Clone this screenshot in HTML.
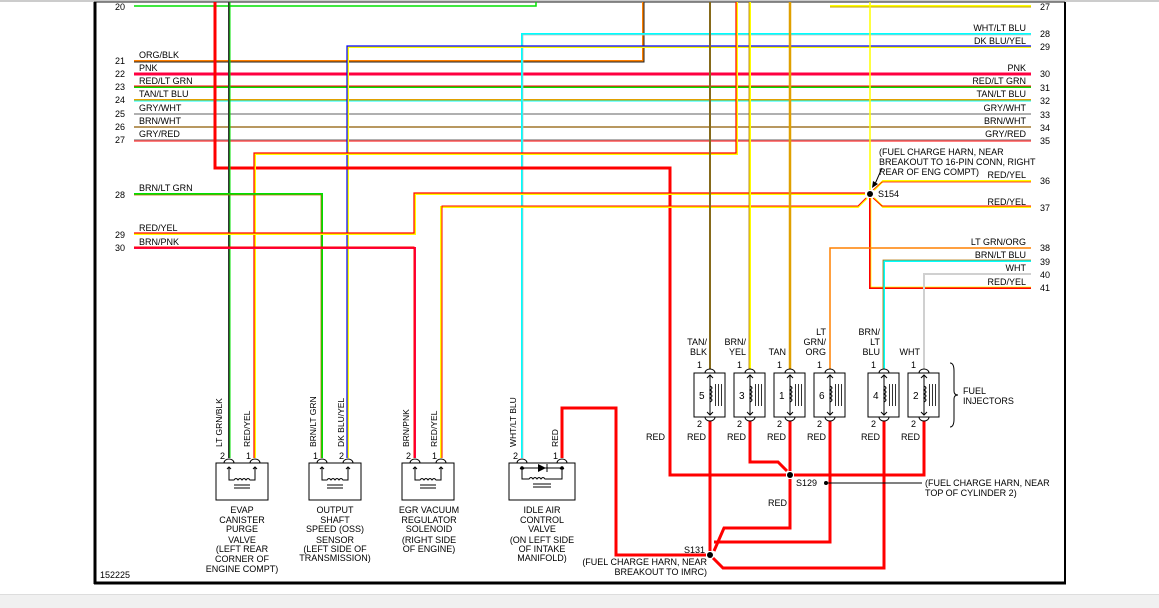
<!DOCTYPE html>
<html><head><meta charset="utf-8"><style>
html,body{margin:0;padding:0;background:#fff;}
svg{display:block;font-family:"Liberation Sans",sans-serif;font-size:9px;}
</style></head><body>
<svg width="1159" height="608" viewBox="0 0 1159 608" xmlns="http://www.w3.org/2000/svg">
<defs>
<g id="inj" fill="none" stroke="#000" stroke-width="1">
<rect x="-16" y="373" width="31" height="44"/>
<path d="M-5,373 A5,4 0 0 1 5,373"/>
<path d="M-5,417 A5,4 0 0 0 5,417"/>
<path d="M0,375 V415 M-3,378 L0,375 L3,378 M-3,412 L0,415 L3,412"/>
<path d="M0,386 q4,2 0,4 q4,2 0,4 q4,2 0,4 q4,2 0,4"/>
<path d="M5.5,384 V406 M8.5,384 V406 M11.5,384 V406" stroke-width="0.8"/>
</g>
<g id="sol" fill="none" stroke="#000" stroke-width="1">
<rect x="-13" y="463" width="52" height="37"/>
<path d="M-5,463 A5,4 0 0 1 5,463 M21,463 A5,4 0 0 1 31,463"/>
<path d="M0,467 V480 H5 q2,-3 4,0 q2,-3 4,0 q2,-3 4,0 q2,-3 4,0 H26 V467 M-2,469 L0,467 L2,469 M24,469 L26,467 L28,469"/>
<path d="M5,485 H21 M5,488 H21"/>
</g>
</defs>
<!-- frame -->
<rect x="0" y="0" width="1159" height="2" fill="#ccc"/>
<line x1="94" y1="2" x2="1065" y2="2" stroke="#666" stroke-width="1.5"/>
<line x1="95" y1="2" x2="95" y2="584" stroke="#000" stroke-width="3"/>
<line x1="1065" y1="2" x2="1065" y2="584" stroke="#000" stroke-width="2"/>
<line x1="94" y1="583" x2="1066" y2="583" stroke="#000" stroke-width="3"/>
<rect x="0" y="594" width="1159" height="14" fill="#f0f0f0"/>
<line x1="0" y1="594.5" x2="1159" y2="594.5" stroke="#ddd"/>

<g fill="none" stroke-linejoin="miter">
<path d="M134,6 H536 V2" stroke="#00e000" stroke-width="1.5"/>
<path d="M134,61 H643 V2" stroke="#ff8000" stroke-width="2"/><path d="M134,62 H644 V2" stroke="#222" stroke-width="1"/>
<path d="M134,74 H1031" stroke="#ff0040" stroke-width="3"/>
<path d="M134,87 H1031" stroke="#00e000" stroke-width="2"/><path d="M134,86 H1031" stroke="#ff0000" stroke-width="1"/>
<path d="M134,100 H1031" stroke="#e0a000" stroke-width="2"/><path d="M134,101 H1031" stroke="#00ffff" stroke-width="1"/>
<path d="M134,114 H1031" stroke="#b0b0b0" stroke-width="2"/>
<path d="M134,127 H1031" stroke="#c0c0c0" stroke-width="2"/><path d="M134,127 H1031" stroke="#b07000" stroke-width="1"/>
<path d="M134,140 H1031" stroke="#b0b0b0" stroke-width="2"/><path d="M134,141 H1031" stroke="#ff0000" stroke-width="1"/>
<path d="M522,458 V34 H1031" stroke="#00ffff" stroke-width="2"/><path d="M523,458 V35 H1031" stroke="#c0c0c0" stroke-width="0.7"/>
<path d="M348,458 V47 H1031" stroke="#ffff00" stroke-width="2"/><path d="M347,458 V46 H1031" stroke="#0000ff" stroke-width="1.2"/>
<path d="M830,6 H1031" stroke="#ffff00" stroke-width="2"/><path d="M830,7 H1031" stroke="#c0a000" stroke-width="1"/>
<path d="M870,2 V190" stroke="#ffff00" stroke-width="1.5"/>
<path d="M215,2 V168 H670 V475 H786" stroke="#ff0000" stroke-width="3"/>
<path d="M229,2 V458" stroke="#333" stroke-width="2"/><path d="M230,2 V458" stroke="#00e000" stroke-width="1"/>
<path d="M255,458 V154 H737 V2" stroke="#ffff00" stroke-width="2"/><path d="M254,458 V153 H736 V2" stroke="#ff0000" stroke-width="1.2"/>
<path d="M134,194 H322 V458" stroke="#00e000" stroke-width="2"/><path d="M134,195 H321 V458" stroke="#b07000" stroke-width="0.8"/>
<path d="M134,234 H415 V194 H865" stroke="#ffff00" stroke-width="2"/><path d="M134,233 H414 V193 H865" stroke="#ff0000" stroke-width="1.2"/>
<path d="M134,248 H415 V458" stroke="#ff0040" stroke-width="2"/><path d="M134,247 H414 V458" stroke="#ff0000" stroke-width="1"/>
<path d="M441,458 V207 H858 L867,198" stroke="#ffff00" stroke-width="2"/><path d="M442,458 V206 H858 L866,198" stroke="#ff0000" stroke-width="1"/>
<path d="M874,190 L883,181 H1031" stroke="#ffff00" stroke-width="2"/><path d="M873,190 L882,182 H1031" stroke="#ff0000" stroke-width="0.8"/>
<path d="M874,198 L883,207 H1031" stroke="#ffff00" stroke-width="2"/><path d="M873,198 L882,206 H1031" stroke="#ff0000" stroke-width="1"/>
<path d="M870,198 V288 H1031" stroke="#ff0000" stroke-width="2"/><path d="M871,198 V287 H1031" stroke="#ffff00" stroke-width="0.8"/>
<path d="M710,2 V369" stroke="#d8a000" stroke-width="2"/><path d="M710,2 V369" stroke="#333" stroke-width="1"/>
<path d="M750,2 V369" stroke="#ffff00" stroke-width="2"/><path d="M749,2 V369" stroke="#b07000" stroke-width="0.8"/>
<path d="M790,2 V369" stroke="#e0a000" stroke-width="2.5"/>
<path d="M1031,248 H830 V369" stroke="#ff8000" stroke-width="1.5"/>
<path d="M1031,261 H884 V369" stroke="#00ffff" stroke-width="2"/><path d="M1031,260 H883 V369" stroke="#b07000" stroke-width="0.8"/>
<path d="M1031,274 H924 V369" stroke="#d0d0d0" stroke-width="2"/>
<g stroke="#ff0000" stroke-width="3">
<path d="M710,421 V551"/>
<path d="M750,421 V462 H778 L787,471"/>
<path d="M790,421 V471 M790,479 V528 H724 L714,551"/>
<path d="M830,421 V542 H714"/>
<path d="M884,421 V568 H723 L713,558"/>
<path d="M924,421 V475 H794"/>
<path d="M562,458 V408 H616 V555 H706"/>
</g>
</g>
<circle cx="870" cy="194" r="3"/>
<circle cx="790" cy="475" r="3"/>
<circle cx="710" cy="555" r="3"/>
<line x1="826" y1="483" x2="922" y2="483" stroke="#000" stroke-width="1"/>
<circle cx="826" cy="483" r="2"/>
<path d="M882,168 L875,184" stroke="#000" stroke-width="1"/><path d="M872,188 L873,181 L878,184 Z"/>

<use href="#inj" x="710"/><use href="#inj" x="750"/><use href="#inj" x="790"/>
<use href="#inj" x="830"/><use href="#inj" x="884"/><use href="#inj" x="924"/>
<g font-size="10">
<text x="699" y="399">5</text><text x="739" y="399">3</text><text x="779" y="399">1</text>
<text x="819" y="399">6</text><text x="873" y="399">4</text><text x="913" y="399">2</text>
</g>
<g text-anchor="end">
<text x="702" y="368">1</text><text x="742" y="368">1</text><text x="782" y="368">1</text><text x="822" y="368">1</text><text x="876" y="368">1</text><text x="916" y="368">1</text>
<text x="702" y="427">2</text><text x="742" y="427">2</text><text x="782" y="427">2</text><text x="822" y="427">2</text><text x="876" y="427">2</text><text x="916" y="427">2</text>
<text x="707" y="345">TAN/</text><text x="707" y="355">BLK</text>
<text x="746" y="345">BRN/</text><text x="746" y="355">YEL</text>
<text x="786" y="355">TAN</text>
<text x="826" y="335">LT</text><text x="826" y="345">GRN/</text><text x="826" y="355">ORG</text>
<text x="880" y="335">BRN/</text><text x="880" y="345">LT</text><text x="880" y="355">BLU</text>
<text x="920" y="355">WHT</text>
<text x="665" y="440">RED</text><text x="706" y="440">RED</text><text x="746" y="440">RED</text><text x="786" y="440">RED</text><text x="826" y="440">RED</text><text x="880" y="440">RED</text><text x="920" y="440">RED</text>
<text x="787" y="506">RED</text>
<text x="705" y="553">S131</text>
<text x="707" y="565">(FUEL CHARGE HARN, NEAR</text>
<text x="707" y="575">BREAKOUT TO IMRC)</text>
</g>
<path d="M950,363 q4,0 4,8 v20 q0,4 4,4 q-4,0 -4,4 v20 q0,8 -4,8" fill="none" stroke="#000"/>
<text x="963" y="394">FUEL</text><text x="963" y="404">INJECTORS</text>
<text x="796" y="486">S129</text>
<text x="925" y="486">(FUEL CHARGE HARN, NEAR</text>
<text x="925" y="496">TOP OF CYLINDER 2)</text>
<text x="878" y="197">S154</text>
<text x="879" y="155">(FUEL CHARGE HARN, NEAR</text>
<text x="879" y="165">BREAKOUT TO 16-PIN CONN, RIGHT</text>
<text x="879" y="175">REAR OF ENG COMPT)</text>

<use href="#sol" x="229"/><use href="#sol" x="322"/><use href="#sol" x="415"/>
<g fill="none" stroke="#000" stroke-width="1">
<rect x="509" y="463" width="66" height="37"/>
<path d="M517,463 A5,4 0 0 1 527,463 M557,463 A5,4 0 0 1 567,463"/>
<path d="M522,467 V479 H529 q2,-3 4,0 q2,-3 4,0 q2,-3 4,0 q2,-3 4,0 H562 V467 M520,469 L522,467 L524,469 M560,469 L562,467 L564,469"/>
<path d="M533,484 H551 M533,487 H551"/>
<line x1="522" y1="468" x2="562" y2="468"/>
</g>
<circle cx="522" cy="468" r="1.8"/><circle cx="562" cy="468" r="1.8"/>
<path d="M538,464 L546,468 L538,472 Z"/><line x1="547" y1="464" x2="547" y2="472" stroke="#000"/>

<g text-anchor="end">
<text x="225" y="459">2</text><text x="251" y="459">1</text>
<text x="318" y="459">1</text><text x="344" y="459">2</text>
<text x="411" y="459">2</text><text x="437" y="459">1</text>
<text x="518" y="459">2</text><text x="558" y="459">1</text>
</g>
<g font-size="8.5">
<text transform="translate(222,447) rotate(-90)">LT GRN/BLK</text>
<text transform="translate(250,447) rotate(-90)">RED/YEL</text>
<text transform="translate(316,447) rotate(-90)">BRN/LT GRN</text>
<text transform="translate(344,447) rotate(-90)">DK BLU/YEL</text>
<text transform="translate(409,447) rotate(-90)">BRN/PNK</text>
<text transform="translate(437,447) rotate(-90)">RED/YEL</text>
<text transform="translate(516,447) rotate(-90)">WHT/LT BLU</text>
<text transform="translate(558,447) rotate(-90)">RED</text>
</g>
<g text-anchor="middle">
<text x="242" y="513">EVAP</text><text x="242" y="523">CANISTER</text><text x="242" y="532">PURGE</text><text x="242" y="543">VALVE</text><text x="242" y="552">(LEFT REAR</text><text x="242" y="562">CORNER OF</text><text x="242" y="572">ENGINE COMPT)</text>
<text x="335" y="513">OUTPUT</text><text x="335" y="523">SHAFT</text><text x="335" y="532">SPEED (OSS)</text><text x="335" y="543">SENSOR</text><text x="335" y="552">(LEFT SIDE OF</text><text x="335" y="561">TRANSMISSION)</text>
<text x="429" y="513">EGR VACUUM</text><text x="429" y="523">REGULATOR</text><text x="429" y="532">SOLENOID</text><text x="429" y="543">(RIGHT SIDE</text><text x="429" y="552">OF ENGINE)</text>
<text x="542" y="513">IDLE AIR</text><text x="542" y="523">CONTROL</text><text x="542" y="532">VALVE</text><text x="542" y="543">(ON LEFT SIDE</text><text x="542" y="552">OF INTAKE</text><text x="542" y="561">MANIFOLD)</text>
</g>
<text x="100" y="578">152225</text>

<g>
<text x="139" y="58">ORG/BLK</text><text x="139" y="71">PNK</text><text x="139" y="84">RED/LT GRN</text><text x="139" y="97">TAN/LT BLU</text>
<text x="139" y="111">GRY/WHT</text><text x="139" y="124">BRN/WHT</text><text x="139" y="137">GRY/RED</text>
<text x="139" y="191">BRN/LT GRN</text><text x="139" y="231">RED/YEL</text><text x="139" y="245">BRN/PNK</text>
</g>
<g text-anchor="end">
<text x="125" y="10">20</text><text x="125" y="64">21</text><text x="125" y="77">22</text><text x="125" y="90">23</text><text x="125" y="103">24</text>
<text x="125" y="117">25</text><text x="125" y="130">26</text><text x="125" y="143">27</text><text x="125" y="198">28</text><text x="125" y="238">29</text><text x="125" y="251">30</text>
<text x="1026" y="31">WHT/LT BLU</text><text x="1026" y="44">DK BLU/YEL</text><text x="1026" y="71">PNK</text><text x="1026" y="84">RED/LT GRN</text>
<text x="1026" y="97">TAN/LT BLU</text><text x="1026" y="111">GRY/WHT</text><text x="1026" y="124">BRN/WHT</text><text x="1026" y="137">GRY/RED</text>
<text x="1026" y="178">RED/YEL</text><text x="1026" y="205">RED/YEL</text><text x="1026" y="245">LT GRN/ORG</text><text x="1026" y="258">BRN/LT BLU</text>
<text x="1026" y="271">WHT</text><text x="1026" y="285">RED/YEL</text>
</g>
<g>
<text x="1040" y="10">27</text><text x="1040" y="37">28</text><text x="1040" y="50">29</text><text x="1040" y="77">30</text><text x="1040" y="91">31</text>
<text x="1040" y="104">32</text><text x="1040" y="118">33</text><text x="1040" y="131">34</text><text x="1040" y="144">35</text><text x="1040" y="184">36</text>
<text x="1040" y="211">37</text><text x="1040" y="251">38</text><text x="1040" y="265">39</text><text x="1040" y="278">40</text><text x="1040" y="291">41</text>
</g>
</svg>
</body></html>
